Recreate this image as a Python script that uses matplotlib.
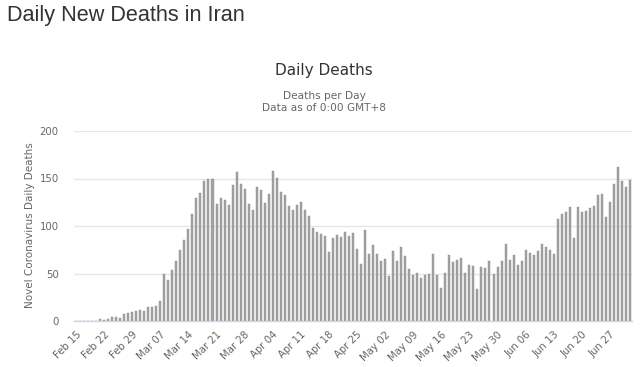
import matplotlib
matplotlib.use("Agg")
import matplotlib.pyplot as plt
import pandas as pd
import numpy as np

# daily deaths, Feb 15 .. Jul 02 (2020)
start_day = "2020-02-15"
deaths_feb = [0, 0, 0, 0, 0, 0, 2, 1, 2, 4, 4, 3, 7, 8, 9]
deaths_mar = [11, 12, 11, 15, 15, 16, 21, 49, 43, 54, 63, 75, 85, 97, 113, 129,
              135, 147, 149, 149, 123, 129, 127, 122, 143, 157, 144, 139, 123,
              117, 141]
deaths_apr = [138, 124, 134, 158, 151, 136, 133, 121, 117, 122, 125, 117, 111,
              98, 94, 92, 89, 73, 87, 91, 88, 94, 90, 93, 76, 60, 96, 71, 80, 71]
deaths_may = [63, 65, 47, 74, 63, 78, 68, 55, 48, 51, 45, 48, 50, 71, 48, 35,
              51, 69, 62, 64, 66, 51, 59, 58, 34, 57, 56, 63, 50, 57, 63]
deaths_jun = [81, 64, 70, 59, 63, 75, 72, 70, 74, 81, 78, 75, 71, 107, 113, 115,
              120, 87, 120, 115, 116, 119, 121, 133, 134, 109, 125, 144, 162, 147]
deaths_jul = [141, 148]

deaths = deaths_feb + deaths_mar + deaths_apr + deaths_may + deaths_jun + deaths_jul
days = pd.date_range(start_day, periods=len(deaths), freq="D")
labels = [d.strftime("%b %d") for d in days]
y_ticks = [0, 50, 100, 150, 200]

fig = plt.figure(figsize=(6.44, 3.67), dpi=100)
ax = fig.add_axes([74 / 644, 1 - 321 / 367, 558 / 644, 190 / 367])

x = np.arange(len(deaths))
ax.bar(x, deaths, width=0.5, color="#a3a3a3", edgecolor="#8f8f8f", linewidth=0.3, zorder=3)

ax.set_xlim(-0.5, len(deaths) - 0.5)
ax.set_ylim(0, 200)
ax.set_yticks(y_ticks)
ax.set_yticklabels([str(v) for v in y_ticks], fontsize=7.3, color="#666666",
                   family="DejaVu Sans")
ax.yaxis.grid(True, color="#e6e6e6", linewidth=1, zorder=0)
ax.tick_params(axis="y", length=0, pad=11)

tick_pos = x[::7]
ax.set_xticks(tick_pos)
ax.set_xticklabels([labels[i] for i in tick_pos], rotation=45, ha="right",
                   rotation_mode="anchor", fontsize=7.3, color="#666666",
                   family="DejaVu Sans")
ax.tick_params(axis="x", length=0, pad=6)

for s in ["top", "right", "left"]:
    ax.spines[s].set_visible(False)
ax.spines["bottom"].set_color("#ccd6eb")
ax.spines["bottom"].set_linewidth(1)
ax.spines["bottom"].set_zorder(4)

# axis title placed in figure coords
fig.text(30 / 644, 1 - 225.5 / 367, "Novel Coronavirus Daily Deaths", rotation=90,
         fontsize=7.5, color="#666666", family="DejaVu Sans", ha="center", va="center")

fig.text(7 / 644, 1 - 15 / 367, "Daily New Deaths in Iran", fontsize=15.6,
         color="#333333", family="Liberation Sans", ha="left", va="center")
fig.text(324 / 644, 1 - 70 / 367, "Daily Deaths", fontsize=11, color="#333333",
         family="DejaVu Sans", ha="center", va="center")
fig.text(324 / 644, 1 - 96 / 367, "Deaths per Day", fontsize=7.6, color="#666666",
         family="DejaVu Sans", ha="center", va="center")
fig.text(324 / 644, 1 - 108 / 367, "Data as of 0:00 GMT+8", fontsize=7.6,
         color="#666666", family="DejaVu Sans", ha="center", va="center")

fig.savefig("out.png", dpi=100)
